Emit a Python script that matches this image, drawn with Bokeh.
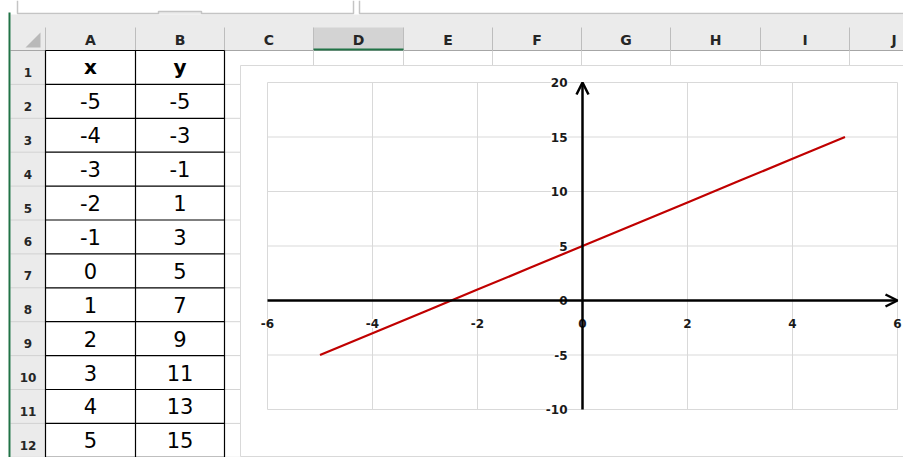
from bokeh.plotting import figure
from bokeh.models import Range1d, LabelSet, ColumnDataSource, Arrow, OpenHead
from bokeh.core.properties import value
from bokeh.embed import file_html
from bokeh.resources import INLINE

# ---------------- data ----------------
x_vals = [-5, -4, -3, -2, -1, 0, 1, 2, 3, 4, 5]
y_vals = [-5, -3, -1, 1, 3, 5, 7, 9, 11, 13, 15]
header_cells = ["x", "y"]
col_letters = ["A", "B", "C", "D", "E", "F", "G", "H", "I", "J"]
row_numbers = list(range(1, 13))
x_ticks = [-6, -4, -2, 0, 2, 4, 6]
y_ticks = [-10, -5, 0, 5, 10, 15, 20]

# ---------------- layout (reference pixel space) ----------------
W, H = 903, 457
X0, X1, Y0, Y1 = 0, 903, 0, 457
col_edges = [45, 135, 224, 313, 403, 492, 581, 670, 760, 849, 938]
hdr_top, hdr_bot = 27, 50
row_h = 33.9
row_edges = [hdr_bot + row_h * i for i in range(13)]
rowhdr_left = 10
box_left, box_top, box_bot = 240, 65, 456
pa_left, pa_right, pa_top, pa_bot = 267, 897, 82, 409

xmin, xmax = x_ticks[0], x_ticks[-1]
ymin, ymax = y_ticks[0], y_ticks[-1]
ppx = (pa_right - pa_left) / (xmax - xmin)
ppy = (pa_bot - pa_top) / (ymax - ymin)
cx = Range1d(xmin - (pa_left - X0) / ppx, xmax + (X1 - pa_right) / ppx)
cy = Range1d(ymin - (Y1 - pa_bot) / ppy, ymax + (pa_top - Y0) / ppy)

p = figure(width=W, height=H, x_range=Range1d(X0, X1), y_range=Range1d(Y1, Y0),
           output_backend="svg", toolbar_location=None,
           x_axis_type=None, y_axis_type=None, min_border=0)
p.outline_line_color = None
p.background_fill_color = "white"
p.border_fill_color = "white"
p.extra_x_ranges = {"cx": cx}
p.extra_y_ranges = {"cy": cy}

# ---------------- spreadsheet chrome ----------------
p.quad(left=rowhdr_left, right=X1, top=14, bottom=hdr_bot, fill_color="#ebebeb", line_color=None)
p.quad(left=158, right=201, top=11, bottom=14, fill_color="#ebebeb", line_color=None)
p.multi_line(xs=[[17, 17, 158, 158, 201, 201, 353, 353], [359, 359, X1]],
             ys=[[0, 13, 13, 11, 11, 13, 13, 0], [0, 13, 13]],
             line_color="#c4c4c4", line_width=1.5)
p.quad(left=col_edges[3], right=col_edges[4], top=hdr_top, bottom=hdr_bot,
       fill_color="#d3d3d3", line_color=None)
p.quad(left=rowhdr_left, right=col_edges[0], top=hdr_bot, bottom=Y1, fill_color="#ebebeb", line_color=None)
p.segment(x0=col_edges, y0=[hdr_top] * len(col_edges), x1=col_edges, y1=[hdr_bot] * len(col_edges),
          line_color="#bdbdbd", line_width=1)
p.segment(x0=[rowhdr_left], y0=[hdr_bot], x1=[X1], y1=[hdr_bot], line_color="#a6a6a6", line_width=1)
p.segment(x0=[col_edges[3]], y0=[hdr_bot - 1], x1=[col_edges[4]], y1=[hdr_bot - 1],
          line_color="#217346", line_width=2)
p.segment(x0=[rowhdr_left] * 12, y0=row_edges[1:], x1=[col_edges[0]] * 12, y1=row_edges[1:],
          line_color="#d2d2d2", line_width=1)
p.patch(x=[40, 40, 25], y=[32, 47, 47], fill_color="#b9b9b9", line_color=None)

col_centers = [(col_edges[i] + col_edges[i + 1]) / 2 for i in range(len(col_letters))]
p.text(x=col_centers, y=[(hdr_top + hdr_bot) / 2 + 1] * len(col_letters), text=col_letters,
       text_font=value("DejaVu Sans"), text_font_style="bold", text_font_size="14px",
       text_align="center", text_baseline="middle", text_color="#262626")
p.text(x=[27.5] * 12, y=[e - 12 for e in row_edges[1:]], text=[str(n) for n in row_numbers],
       text_font=value("DejaVu Sans"), text_font_style="bold", text_font_size="12px",
       text_align="center", text_baseline="middle", text_color="#262626")

p.segment(x0=[col_edges[2]] * 12, y0=row_edges[1:], x1=[X1] * 12, y1=row_edges[1:],
          line_color="#d4d4d4", line_width=1)
p.segment(x0=col_edges[3:], y0=[hdr_bot] * 8, x1=col_edges[3:], y1=[Y1] * 8,
          line_color="#d4d4d4", line_width=1)
p.quad(left=box_left, right=X1 + 40, top=box_top, bottom=box_bot,
       fill_color="white", line_color="#d9d9d9", line_width=1)

p.segment(x0=col_edges[:3], y0=[hdr_bot] * 3, x1=col_edges[:3], y1=[Y1] * 3,
          line_color="black", line_width=1.2)
p.segment(x0=[col_edges[0]] * 13, y0=row_edges, x1=[col_edges[2]] * 13, y1=row_edges,
          line_color="black", line_width=1.2)
row_centers = [(row_edges[i] + row_edges[i + 1]) / 2 for i in range(12)]
p.text(x=col_centers[:2], y=[row_centers[0]] * 2, text=header_cells,
       text_font=value("DejaVu Sans"), text_font_style="bold", text_font_size="20px",
       text_align="center", text_baseline="middle", text_color="black")
p.text(x=[col_centers[0]] * len(x_vals), y=row_centers[1:], text=[str(v) for v in x_vals],
       text_font=value("DejaVu Sans"), text_font_size="21px",
       text_align="center", text_baseline="middle", text_color="black")
p.text(x=[col_centers[1]] * len(y_vals), y=row_centers[1:], text=[str(v) for v in y_vals],
       text_font=value("DejaVu Sans"), text_font_size="21px",
       text_align="center", text_baseline="middle", text_color="black")
p.segment(x0=[9], y0=[12], x1=[9], y1=[Y1], line_color="#217346", line_width=2)

# ---------------- chart ----------------
grid_color = "#d9d9d9"
p.segment(x0=x_ticks, y0=[ymin] * len(x_ticks), x1=x_ticks, y1=[ymax] * len(x_ticks),
          x_range_name="cx", y_range_name="cy", line_color=grid_color, line_width=1)
p.segment(x0=[xmin] * len(y_ticks), y0=y_ticks, x1=[xmax] * len(y_ticks), y1=y_ticks,
          x_range_name="cx", y_range_name="cy", line_color=grid_color, line_width=1)
p.line(x_vals, y_vals, x_range_name="cx", y_range_name="cy", line_color="#c00000", line_width=2.2)

ysrc = ColumnDataSource(dict(x=[0] * len(y_ticks), y=y_ticks, t=[str(v) for v in y_ticks]))
xsrc = ColumnDataSource(dict(x=x_ticks, y=[0] * len(x_ticks), t=[str(v) for v in x_ticks]))
p.add_layout(LabelSet(x="x", y="y", text="t", source=ysrc, x_range_name="cx", y_range_name="cy",
                      x_offset=-15, text_align="right", text_baseline="middle",
                      text_font=value("DejaVu Sans"), text_font_style="bold", text_font_size="12px",
                      text_color="#1a1a1a", background_fill_color="white"))
p.add_layout(LabelSet(x="x", y="y", text="t", source=xsrc, x_range_name="cx", y_range_name="cy",
                      y_offset=-23, text_align="center", text_baseline="middle",
                      text_font=value("DejaVu Sans"), text_font_style="bold", text_font_size="12px",
                      text_color="#1a1a1a", background_fill_color="white"))

p.add_layout(Arrow(end=OpenHead(size=12, line_width=2.5, line_color="black"),
                   x_start=0, y_start=ymin, x_end=0, y_end=ymax,
                   x_range_name="cx", y_range_name="cy", line_width=2.5, line_color="black"))
p.add_layout(Arrow(end=OpenHead(size=12, line_width=2.5, line_color="black"),
                   x_start=xmin, y_start=0, x_end=xmax, y_end=0,
                   x_range_name="cx", y_range_name="cy", line_width=2.5, line_color="black"))

open("out.html", "w").write(file_html(p, INLINE))
